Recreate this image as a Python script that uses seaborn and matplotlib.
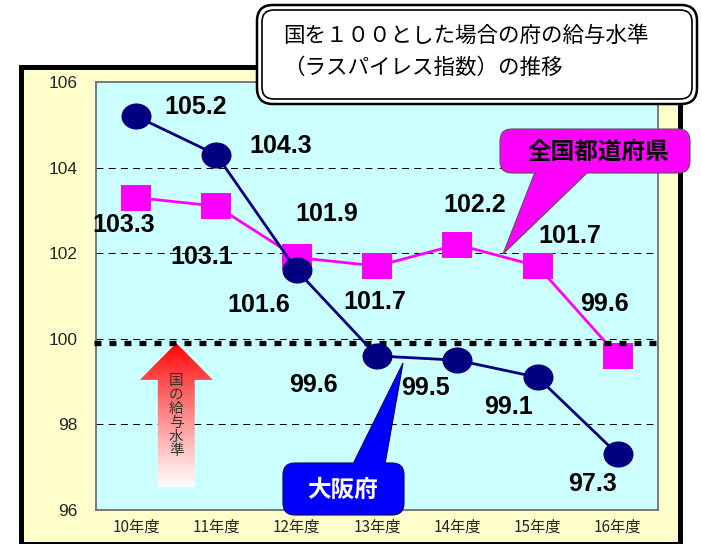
import numpy as np
import pandas as pd
import matplotlib
matplotlib.use("Agg")
import matplotlib.pyplot as plt
import seaborn as sns
from matplotlib.path import Path
from matplotlib.patches import FancyBboxPatch, Polygon, Rectangle
from matplotlib.transforms import Affine2D, IdentityTransform

# ---------------- data ----------------
years = ["10年度", "11年度", "12年度", "13年度", "14年度", "15年度", "16年度"]
osaka = [105.2, 104.3, 101.6, 99.6, 99.5, 99.1, 97.3]
national = [103.3, 103.1, 101.9, 101.7, 102.2, 101.7, 99.6]
yticks = [96, 98, 100, 102, 104, 106]
grid_levels = [98, 100, 102, 104]
kuni_level = 99.9
title_lines = ["国を１００とした場合の府の給与水準", "（ラスパイレス指数）の推移"]
name_osaka = "大阪府"
name_national = "全国都道府県"
arrow_text = "国の給与水準"

# label offsets (pixels: right, down) relative to each point
off_osaka = [(60, -9), (64, -9), (-38, 35), (-64, 29), (-32, 28), (-29, 30), (-25, 30)]
off_nat = [(-12, 27), (-15, 51), (30, -43), (-2, 36), (17, -40), (32, -30), (-13, -52)]

W, H = 702, 544
sns.set_style("white")
plt.rcParams['font.family'] = ['Noto Sans CJK JP', 'DejaVu Sans']
plt.rcParams['lines.scale_dashes'] = False

fig = plt.figure(figsize=(W / 100, H / 100), dpi=100)
fig.patch.set_facecolor("white")

def F(px, py):
    return px / W, 1 - py / H

def D(px, py):
    return px, H - py

# outer frame
fr = Rectangle(F(21, 544), (680 - 21) / W, (544 - 67) / H, transform=fig.transFigure,
               facecolor="#FFFFCC", edgecolor="black", lw=3.6, zorder=-5)
fig.patches.append(fr)

L, T, R, B = 96, 82, 658, 510
ax = fig.add_axes([L / W, 1 - B / H, (R - L) / W, (B - T) / H])
ax.set_facecolor("#CCFFFF")

for g in grid_levels:
    gl = ax.axhline(g, color="black", lw=0.75, zorder=1)
    gl.set_linestyle((0, (5.0, 3.8)))

# gradient arrow
tipx, tipy = 0.5, kuni_level
arrow_poly = Polygon([(tipx, tipy), (tipx + 0.455, 99.04), (tipx + 0.23, 99.04),
                      (tipx + 0.23, 96.54), (tipx - 0.23, 96.54), (tipx - 0.23, 99.04),
                      (tipx - 0.455, 99.04)], closed=True, facecolor="none",
                     edgecolor="none", transform=ax.transData)
ax.add_patch(arrow_poly)
t = np.linspace(0, 1, 256) ** 0.9
grad = np.zeros((256, 2, 3))
grad[:, :, 0] = 1.0
grad[:, :, 1] = t[:, None]
grad[:, :, 2] = t[:, None]
im = ax.imshow(grad, extent=(tipx - 0.46, tipx + 0.46, 96.54, tipy), aspect="auto",
               origin="upper", zorder=2, interpolation="bilinear")
im.set_clip_path(arrow_poly)
ax.text(tipx, 98.2, "\n".join(arrow_text), ha="center", va="center", fontsize=10.5,
        color="#333333", linespacing=1.0, zorder=2.5)

# thick dotted national-level line
dl, = ax.plot([-0.52, 6.5], [kuni_level, kuni_level], color="black", lw=3.8,
              zorder=3.5, clip_on=False)
dl.set_linestyle((0, (5.0, 5.8)))
dl.set_dash_capstyle("butt")

ell = Path.unit_circle().transformed(Affine2D().scale(1.0, 0.87))
rect = Path([(-1, -0.87), (1, -0.87), (1, 0.87), (-1, 0.87), (-1, -0.87)],
            [Path.MOVETO, Path.LINETO, Path.LINETO, Path.LINETO, Path.CLOSEPOLY])

df_nat = pd.DataFrame({"year": years, "value": national})
df_osk = pd.DataFrame({"year": years, "value": osaka})
sns.lineplot(data=df_nat, x="year", y="value", color="#FF00FF", lw=2, marker=rect,
             markersize=21.6, markeredgewidth=0, sort=False, ax=ax, zorder=3)
sns.lineplot(data=df_osk, x="year", y="value", color="#000080", lw=2, marker=ell,
             markersize=21.6, markeredgewidth=0, sort=False, ax=ax, zorder=4)

numfont = dict(family="Liberation Sans", weight="bold", fontsize=18, color="black")
for i, (v, o) in enumerate(zip(osaka, off_osaka)):
    ax.annotate(f"{v:.1f}", (i, v), xytext=(o[0] * 0.72, -o[1] * 0.72),
                textcoords="offset points", ha="center", va="center", zorder=6, **numfont)
for i, (v, o) in enumerate(zip(national, off_nat)):
    ax.annotate(f"{v:.1f}", (i, v), xytext=(o[0] * 0.72, -o[1] * 0.72),
                textcoords="offset points", ha="center", va="center", zorder=6, **numfont)

ax.set_xlim(-0.5, 6.5)
ax.set_ylim(96, 106)
ax.set_yticks(yticks)
ax.set_yticklabels([str(v) for v in yticks], family="Liberation Sans", fontsize=12.5)
ax.set_xticks(range(len(years)))
ax.set_xticklabels(years, fontsize=11)
ax.set_xticks(np.arange(0.5, 6.0, 1.0), minor=True)
ax.tick_params(axis="y", length=0, pad=13.5)
ax.tick_params(axis="x", which="major", length=0, pad=6)
ax.tick_params(axis="x", which="minor", direction="in", length=4, color="#666666", width=1)
ax.set_xlabel("")
ax.set_ylabel("")
for s in ax.spines.values():
    s.set_color("#707070")
    s.set_linewidth(1.3)

IT = IdentityTransform()

# title box (double rounded border)
def rbox(x0, y0, x1, y1, r, **kw):
    p = FancyBboxPatch(D(x0, y1), x1 - x0, y1 - y0,
                       boxstyle=f"round,pad=0,rounding_size={r}", transform=IT, **kw)
    fig.patches.append(p)
    return p

rbox(257, 5, 697, 104, 16, facecolor="white", edgecolor="black", lw=1.8, zorder=20)
rbox(262, 10, 692, 99, 12, facecolor="none", edgecolor="black", lw=1.2, zorder=21)
fig.text(283 / W, 1 - 36 / H, title_lines[0], ha="left", va="center", fontsize=15.5,
         color="black", zorder=22)
fig.text(283 / W, 1 - 68 / H, title_lines[1], ha="left", va="center", fontsize=15.5,
         color="black", zorder=22)

# callouts
def callout(box, tail, r, face, edge, text, tcolor, tpos):
    x0, y0, x1, y1 = box
    poly = Polygon([D(*p) for p in tail], closed=True, transform=IT, facecolor=face,
                   edgecolor=edge, lw=0.8, zorder=20)
    fig.patches.append(poly)
    rbox(x0, y0, x1, y1, r, facecolor=face, edgecolor=edge, lw=0.8, zorder=21)
    xs = [p[0] for p in tail[:2]]
    yb = tail[0][1]
    cov = Rectangle(D(min(xs) + 1.5, yb + 2), abs(xs[1] - xs[0]) - 3, 4, transform=IT,
                    facecolor=face, edgecolor="none", zorder=22)
    fig.patches.append(cov)
    fig.text(tpos[0] / W, 1 - tpos[1] / H, text, ha="center", va="center", fontsize=17,
             weight="bold", color=tcolor, zorder=23)

callout((500, 129, 690, 173), [(535, 172), (588, 172), (503, 254)], 12, "#FF00FF",
        "#555555", name_national, "black", (598, 152))
callout((283, 463, 404, 515), [(353, 464), (385, 464), (403, 363)], 12, "#0000FF",
        "#000060", name_osaka, "white", (343, 490))

fig.savefig("out.png", dpi=100)
